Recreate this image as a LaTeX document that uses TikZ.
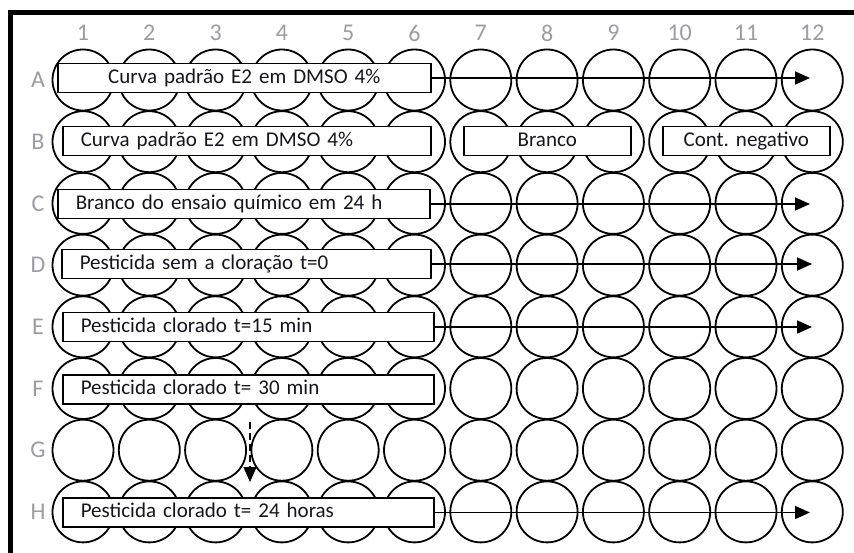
\documentclass[tikz,border=0pt]{standalone}
\usepackage{fontspec}
\setmainfont{Carlito}
\usepackage{tikz}
\usetikzlibrary{arrows.meta,positioning}
\definecolor{cInk}{HTML}{15151F}
\definecolor{cTag}{HTML}{9C9CA4}

\begin{document}
\begin{tikzpicture}[
  x=1pt, y=-1pt,
  well/.style={circle, draw, line width=1.8pt, minimum size=61pt, inner sep=0pt},
  hdr/.style={text=cTag, font=\fontsize{24pt}{28pt}\selectfont, inner sep=0pt},
  tag/.style={
    draw, fill=white, line width=1.5pt, anchor=west,
    minimum height=29pt, inner xsep=18pt, inner ysep=0pt,
    text height=15pt, text depth=5pt, align=left,
    text=cInk, font=\fontsize{21pt}{25pt}\selectfont
  },
  flow/.style={line width=1.7pt, -{Triangle[length=15pt,width=13pt]}},
]
\useasboundingbox (0,0) rectangle (854,552);
% plate frame
\draw[line width=5pt] (10.5,570) |- (870,12.5);
% column numbers
\foreach \c in {1,...,12}
  \node[hdr] (col\c) at ({83+66.3*(\c-1)},33) {\c};
% wells
\foreach \r [count=\i from 0] in {A,B,C,D,E,F,G,H}{
  \node[hdr] (row\r) at (38,{80+61.7*\i}) {\r};
  \foreach \c in {1,...,12}
    \node[well] (\r\c) at ({83+66.3*(\c-1)},{80+61.7*\i}) {};
}
% Row A
\node[tag, text width=337pt, align=center] (boxA) at (57,78) {Curva padrão E2 em DMSO 4\%};
% Row B
\node[tag, text width=332pt] (boxB) at (62,141) {Curva padrão E2 em DMSO 4\%};
\node[tag, text width=167pt, inner xsep=0pt, align=center] (branco) at (463,141) {Branco};
\node[tag, text width=167pt, inner xsep=0pt, align=center] (negativo) at (662,141) {Cont.\ negativo};
% Row C
\node[tag, text width=336pt, inner xsep=18pt] (boxC) at (57,204) {Branco do ensaio químico em 24 h};
% Row D
\node[tag, text width=333pt] (boxD) at (61,264) {Pesticida sem a cloração t=0};
% Row E
\node[tag, text width=335pt] (boxE) at (62,327) {Pesticida clorado t=15 min};
% Row F
\node[tag, text width=335pt] (boxF) at (62,389.5) {Pesticida clorado t= 30 min};
% Row H
\node[tag, text width=335pt] (boxH) at (62,512.5) {Pesticida clorado t= 24 horas};
% arrows along the rows
\coordinate (endA) at (810,78);
\coordinate (endC) at (810,204);
\coordinate (endD) at (812,264);
\coordinate (endE) at (812,327);
\coordinate (endH) at (810,512.5);
\draw[flow] (boxA.east) -- (endA);
\draw[flow] (boxC.east) -- (endC);
\draw[flow] (boxD.east) -- (endD);
\draw[flow] (boxE.east) -- (endE);
\draw[flow] (boxH.east) -- (endH);
% row G
\coordinate (gTop) at (250,422);
\coordinate (gEnd) at (250,482);
\draw[flow, line width=1.4pt, dash pattern=on 7pt off 4pt] (gTop) -- (gEnd);
\end{tikzpicture}
\end{document}
